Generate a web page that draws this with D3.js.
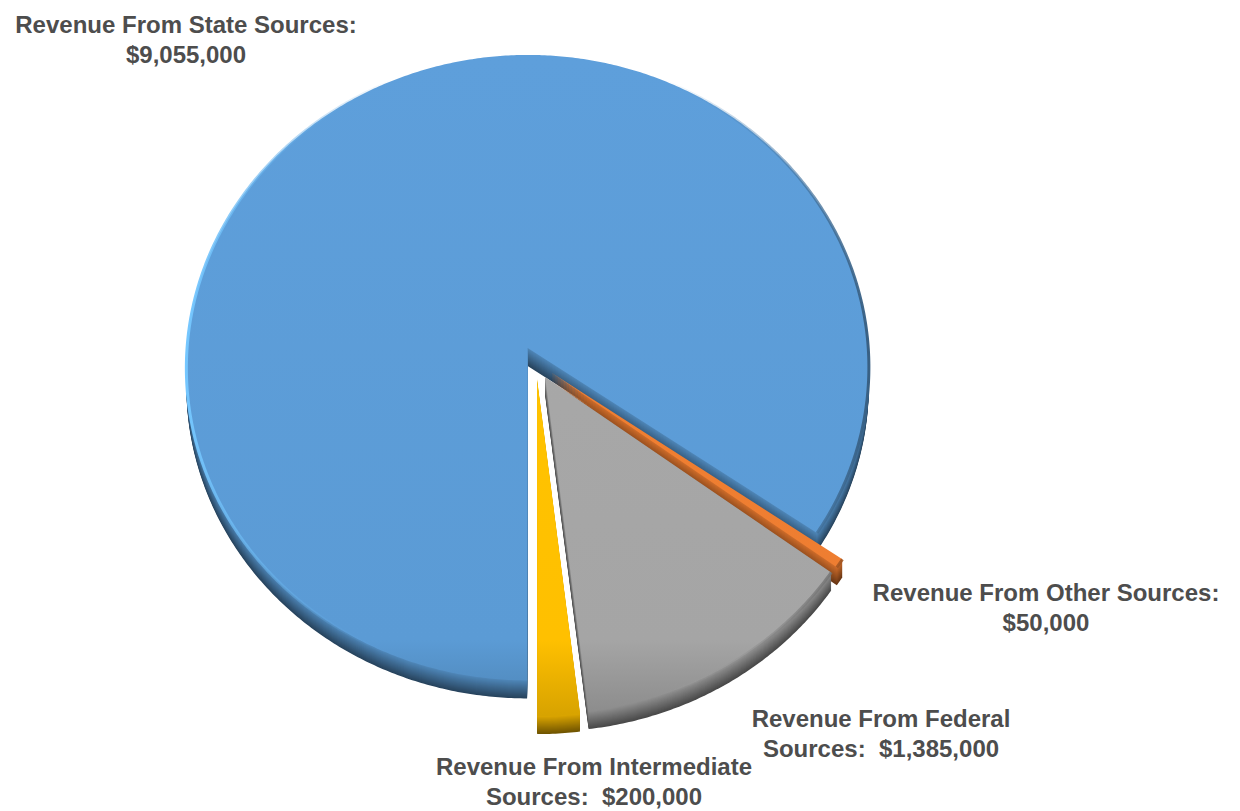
<!DOCTYPE html>
<html><head><meta charset="utf-8">
<script src="https://cdn.jsdelivr.net/npm/d3@7"></script>
<style>body{margin:0;background:#fff}</style>
</head><body>
<svg id="chart" width="1240" height="811"></svg>
<script>
// ---- data ----
const categories = ["Revenue From State Sources", "Revenue From Other Sources", "Revenue From Federal Sources", "Revenue From Intermediate Sources"];
const values = [9055000, 50000, 1385000, 200000];
const colors = ["#5b9bd5", "#ed7d31", "#a5a5a5", "#ffc000"];
const labelLine1 = ["Revenue From State Sources:", "Revenue From Other Sources:", "Revenue From Federal", "Revenue From Intermediate"];
const labelLine2 = ["$9,055,000", "$50,000", "Sources:  $1,385,000", "Sources:  $200,000"];

// ---- layout ----
const labelPos = [[186, 33], [1046, 601], [881, 727], [594, 775]];
const explode = 0.053;      // radial explosion (fraction of radius)
const depth = 18;           // wall thickness (px)
// perspective projection of the pie plane (u right, v toward viewer; unit radius)
const P = {cx: 536, k: 341.6, a: 290.4, b: 362.6, c: -0.0633};
function proj(u, v) { const d = 1 + P.c * v; return [P.cx + P.k * u / d, (P.a * v + P.b) / d]; }

const svg = d3.select("#chart");
const defs = svg.append("defs");

const pie = d3.pie().sort(null).value(d => d).startAngle(Math.PI).endAngle(3 * Math.PI);
const arcs = pie(values).map((s, i) => Object.assign(s, {i}));

function outline(s, dy, arcOnly) {
  const m = (s.startAngle + s.endAngle) / 2;
  const ox = explode * Math.sin(m), oy = -explode * Math.cos(m);
  const pts = [];
  if (!arcOnly) pts.push([ox, oy]);
  const n = Math.max(3, Math.ceil((s.endAngle - s.startAngle) / (Math.PI / 360)));
  for (let j = 0; j <= n; j++) {
    const t = s.startAngle + (s.endAngle - s.startAngle) * j / n;
    pts.push([ox + Math.sin(t), oy - Math.cos(t)]);
  }
  return pts.map(p => { const q = proj(p[0], p[1]); return [q[0], q[1] + dy]; });
}
const line = d3.line();
const lineClosed = d3.line().curve(d3.curveLinearClosed);

// walls: stacked layers from bottom to top
const layers = d3.range(depth, 0, -1);
const wallItems = [];
layers.forEach(dy => arcs.forEach(s => wallItems.push({s, dy})));
const wallScale = arcs.map(s => d3.scaleLinear().domain([1, depth])
  .range([d3.color(colors[s.i]).darker(0.45), d3.color(colors[s.i]).darker(2.3)])
  .interpolate(d3.interpolateRgb));

svg.append("g").selectAll("path").data(wallItems).join("path")
  .attr("d", d => lineClosed(outline(d.s, d.dy, false)))
  .attr("fill", d => wallScale[d.s.i](d.dy));

// top faces
arcs.forEach(s => {
  const base = d3.color(colors[s.i]);
  const g = defs.append("linearGradient").attr("id", "top" + s.i)
    .attr("gradientUnits", "userSpaceOnUse").attr("x1", 0).attr("y1", 55).attr("x2", 0).attr("y2", 720);
  g.append("stop").attr("offset", 0).attr("stop-color", base.brighter(0.08));
  g.append("stop").attr("offset", 0.88).attr("stop-color", base);
  g.append("stop").attr("offset", 1).attr("stop-color", base.darker(0.5));
  const r = defs.append("linearGradient").attr("id", "rim" + s.i)
    .attr("gradientUnits", "userSpaceOnUse").attr("x1", 185).attr("y1", 0).attr("x2", 872).attr("y2", 0);
  r.append("stop").attr("offset", 0).attr("stop-color", base.brighter(0.7)).attr("stop-opacity", 1);
  r.append("stop").attr("offset", 0.3).attr("stop-color", base).attr("stop-opacity", 0);
  r.append("stop").attr("offset", 0.7).attr("stop-color", base).attr("stop-opacity", 0);
  r.append("stop").attr("offset", 1).attr("stop-color", base.darker(1.4)).attr("stop-opacity", 1);
});

svg.append("g").selectAll("path").data(arcs).join("path")
  .attr("d", s => lineClosed(outline(s, 0, false)))
  .attr("fill", s => `url(#top${s.i})`);

svg.append("g").selectAll("path").data(arcs).join("path")
  .attr("d", s => line(outline(s, 0, true)))
  .attr("fill", "none").attr("stroke-width", 3)
  .attr("stroke", s => `url(#rim${s.i})`);

// labels
const lab = svg.append("g")
  .attr("font-family", "'Liberation Sans', Arial, sans-serif")
  .attr("font-weight", "bold").attr("font-size", 24)
  .attr("fill", "#4d4d4d").attr("text-anchor", "middle");
arcs.forEach(s => {
  const [x, y] = labelPos[s.i];
  const t = lab.append("text").attr("x", x).attr("y", y).style("white-space", "pre");
  t.append("tspan").attr("x", x).attr("y", y).text(labelLine1[s.i]);
  t.append("tspan").attr("x", x).attr("y", y + 30).text(labelLine2[s.i]);
});
</script>
</body></html>
